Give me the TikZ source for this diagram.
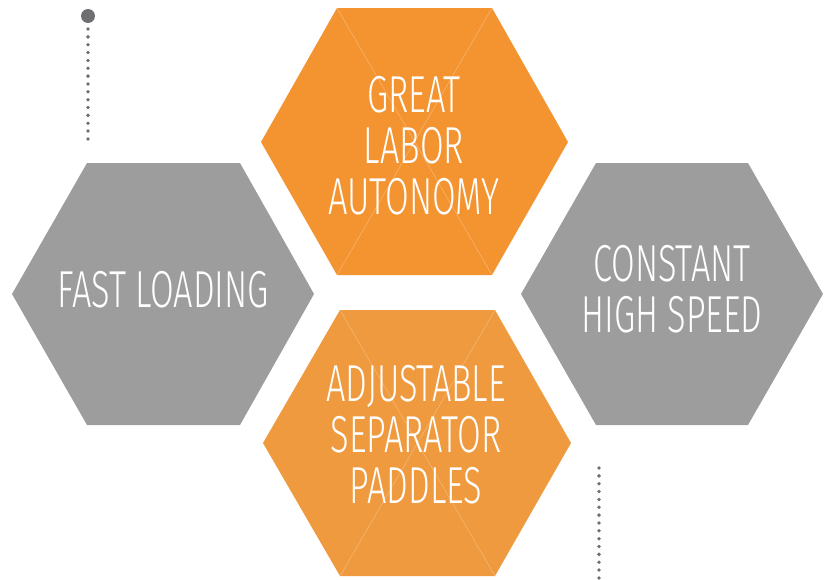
\documentclass[tikz,border=0pt]{standalone}
\usepackage{fontspec}
\newfontfamily\hexfont{Fira Sans Light}[FakeStretch=0.66]
\definecolor{hexgray}{HTML}{9D9D9D}
\definecolor{orangeA}{HTML}{F39431}
\definecolor{orangeB}{HTML}{EF9A3E}
\definecolor{diagA}{HTML}{F7B774}
\definecolor{diagB}{HTML}{F4BA7C}
\definecolor{dotgray}{HTML}{6F6E73}
\tikzset{
  graybox/.style={fill=hexgray},
  orangetop/.style={fill=orangeA},
  orangebot/.style={fill=orangeB},
  diagline/.style={line width=0.5pt},
  hextext/.style={text=white, align=center, inner sep=0pt,
    font=\hexfont\fontsize{52}{51}\selectfont},
  dotline/.style={draw=dotgray, line width=3.8pt, line cap=round,
    dash pattern=on 0pt off 7.85pt},
}
\begin{document}
\begin{tikzpicture}[x=1pt,y=-1pt]
\useasboundingbox (0,0) rectangle (829,579);
% vertices
\coordinate (L1) at (12,294);  \coordinate (L2) at (87,163);  \coordinate (L3) at (240,163);
\coordinate (L4) at (314,294); \coordinate (L5) at (240,425); \coordinate (L6) at (87,425);
\coordinate (T1) at (261,142); \coordinate (T2) at (337,8);   \coordinate (T3) at (492,8);
\coordinate (T4) at (568,142); \coordinate (T5) at (492,275); \coordinate (T6) at (337,275);
\coordinate (B1) at (263,443); \coordinate (B2) at (340,310); \coordinate (B3) at (495,310);
\coordinate (B4) at (571,443); \coordinate (B5) at (495,576); \coordinate (B6) at (340,576);
\coordinate (R1) at (521,294); \coordinate (R2) at (596,163); \coordinate (R3) at (748,163);
\coordinate (R4) at (823,294); \coordinate (R5) at (748,425); \coordinate (R6) at (596,425);
% hexagons
\fill[graybox] (L1) -- (L2) -- (L3) -- (L4) -- (L5) -- (L6) -- cycle;
\fill[graybox] (R1) -- (R2) -- (R3) -- (R4) -- (R5) -- (R6) -- cycle;
\fill[orangetop] (T1) -- (T2) -- (T3) -- (T4) -- (T5) -- (T6) -- cycle;
\fill[orangebot] (B1) -- (B2) -- (B3) -- (B4) -- (B5) -- (B6) -- cycle;
% faint diagonals
\draw[diagline, draw=diagA] (T2) -- (T5) (T3) -- (T6);
\draw[diagline, draw=diagB] (B2) -- (B5) (B3) -- (B6);
% texts
\node[hextext] (fast) at (163,290) {FAST LOADING};
\node[hextext] (great) at (414,146) {GREAT\\LABOR\\AUTONOMY};
\node[hextext] (adjust) at (416,435) {ADJUSTABLE\\SEPARATOR\\PADDLES};
\node[hextext] (const) at (672,289) {CONSTANT\\HIGH SPEED};
% dotted lines
\fill[dotgray] (88,16) circle (7);
\coordinate (d1a) at (88,29);  \coordinate (d1b) at (88,139.5);
\coordinate (d2a) at (599,468); \coordinate (d2b) at (599,578);
\draw[dotline] (d1a) -- (d1b);
\draw[dotline] (d2a) -- (d2b);
\end{tikzpicture}
\end{document}
